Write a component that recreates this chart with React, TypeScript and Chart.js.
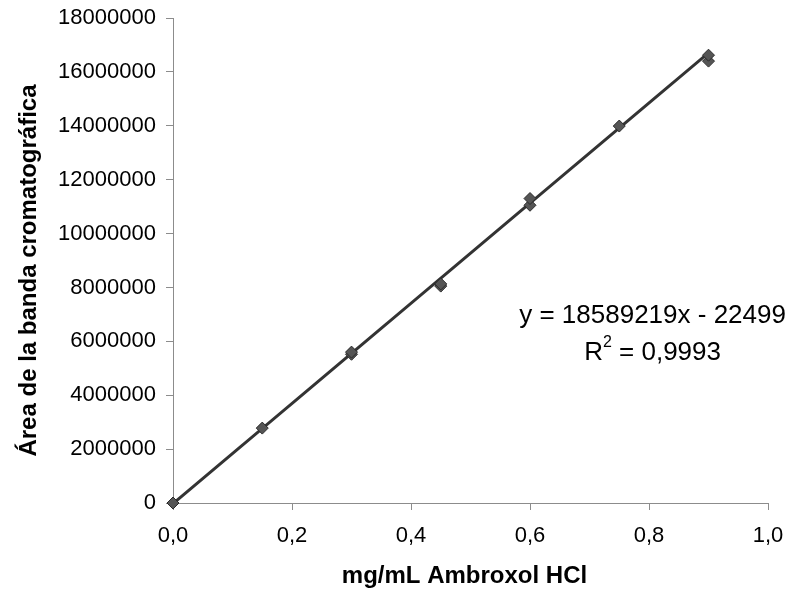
import React, { useEffect, useRef } from "react";
import { Chart, registerables } from "chart.js";

Chart.register(...registerables);

const concentrations = [0, 0.15, 0.3, 0.3, 0.45, 0.45, 0.6, 0.6, 0.75, 0.9, 0.9];
const areas = [0, 2780000, 5520000, 5600000, 8050000, 8130000, 11050000, 11300000, 13990000, 16400000, 16620000];
const slope = 18589219;
const intercept = -22499;
const fitRange = [0, 0.9];
const xTicks = [0, 0.2, 0.4, 0.6, 0.8, 1.0];
const yTickStep = 2000000;
const yMax = 18000000;
const equationText = "y = 18589219x - 22499";
const r2Value = "0,9993";
const xTitle = "mg/mL Ambroxol HCl";
const yTitle = "Área de la banda cromatográfica";

const FONT = "'Liberation Sans', Arial, sans-serif";

const annotationPlugin = {
  id: "eqAnnotation",
  afterDraw(chart: any) {
    const { ctx, scales, chartArea } = chart;
    ctx.save();
    ctx.fillStyle = "#000";
    ctx.textBaseline = "middle";

    // Axis titles
    ctx.font = `bold 24px ${FONT}`;
    ctx.textAlign = "center";
    ctx.fillText(xTitle, (chartArea.left + chartArea.right) / 2 - 6, 576);
    ctx.save();
    ctx.translate(29, (chartArea.top + chartArea.bottom) / 2 + 10);
    ctx.rotate(-Math.PI / 2);
    ctx.fillText(yTitle, 0, 0);
    ctx.restore();

    // Equation annotation
    const cx = scales.x.getPixelForValue(0.806);
    const y1 = scales.y.getPixelForValue(6950000);
    const y2 = scales.y.getPixelForValue(5580000);
    ctx.font = `26px ${FONT}`;
    ctx.textAlign = "center";
    ctx.fillText(equationText, cx, y1);
    const main1 = "R";
    const rest = ` = ${r2Value}`;
    const w1 = ctx.measureText(main1).width;
    const w3 = ctx.measureText(rest).width;
    ctx.font = `16px ${FONT}`;
    const wsup = ctx.measureText("2").width;
    const total = w1 + wsup + w3;
    let x = cx - total / 2;
    ctx.textAlign = "left";
    ctx.font = `26px ${FONT}`;
    ctx.fillText(main1, x, y2);
    x += w1;
    ctx.font = `16px ${FONT}`;
    ctx.fillText("2", x, y2 - 10);
    x += wsup;
    ctx.font = `26px ${FONT}`;
    ctx.fillText(rest, x, y2);
    ctx.restore();
  },
};

export default function App() {
  const ref = useRef<HTMLCanvasElement | null>(null);
  useEffect(() => {
    if (!ref.current) return;
    const points = concentrations.map((c, i) => ({ x: c, y: areas[i] }));
    const fit = fitRange.map((x) => ({ x, y: slope * x + intercept }));
    const chart = new Chart(ref.current, {
      type: "scatter",
      data: {
        datasets: [
          {
            type: "line",
            label: "Ajuste",
            data: fit,
            borderColor: "#333333",
            borderWidth: 3,
            pointRadius: 0,
            fill: false,
            clip: false,
            order: 1,
          } as any,
          {
            label: "Datos",
            data: points,
            pointStyle: "rectRot",
            pointRadius: 6,
            backgroundColor: "#555555",
            borderColor: "#2a2a2a",
            borderWidth: 1,
            clip: false,
            order: 0,
          } as any,
        ],
      },
      options: {
        animation: false,
        responsive: false,
        maintainAspectRatio: false,
        layout: { padding: { left: 8, right: 22, top: 18, bottom: 0 } },
        plugins: {
          legend: { display: false },
          tooltip: { enabled: false },
        },
        scales: {
          x: {
            type: "linear",
            min: 0,
            max: 1,
            afterBuildTicks: (axis: any) => {
              axis.ticks = xTicks.map((v) => ({ value: v }));
            },
            ticks: {
              color: "#000",
              font: { family: FONT, size: 22 },
              padding: 13,
              maxRotation: 0,
              callback: (v: any) => Number(v).toFixed(1).replace(".", ","),
            },
            grid: { drawOnChartArea: false, drawTicks: true, tickLength: 7, color: "#8c8c8c" },
            border: { display: true, color: "#8c8c8c", width: 1 },
            title: { display: false },
            afterFit: (axis: any) => {
              axis.height = 91;
              axis.paddingRight = 0;
              axis.paddingLeft = 0;
            },
          },
          y: {
            type: "linear",
            min: 0,
            max: yMax,
            ticks: {
              stepSize: yTickStep,
              color: "#000",
              font: { family: FONT, size: 22 },
              padding: 10,
              callback: (v: any) => String(v),
            },
            grid: { drawOnChartArea: false, drawTicks: true, tickLength: 7, color: "#8c8c8c" },
            border: { display: true, color: "#8c8c8c", width: 1 },
            title: { display: false },
            afterFit: (axis: any) => {
              axis.width = 165;
              axis.paddingTop = 0;
              axis.paddingBottom = 0;
            },
          },
        },
      },
      plugins: [annotationPlugin],
    });
    return () => chart.destroy();
  }, []);
  return (
    <div style={{ position: "fixed", left: 0, top: 0, width: 790, height: 594, background: "#fff" }}>
      <canvas ref={ref} width={790} height={594} style={{ width: 790, height: 594 }} />
    </div>
  );
}
